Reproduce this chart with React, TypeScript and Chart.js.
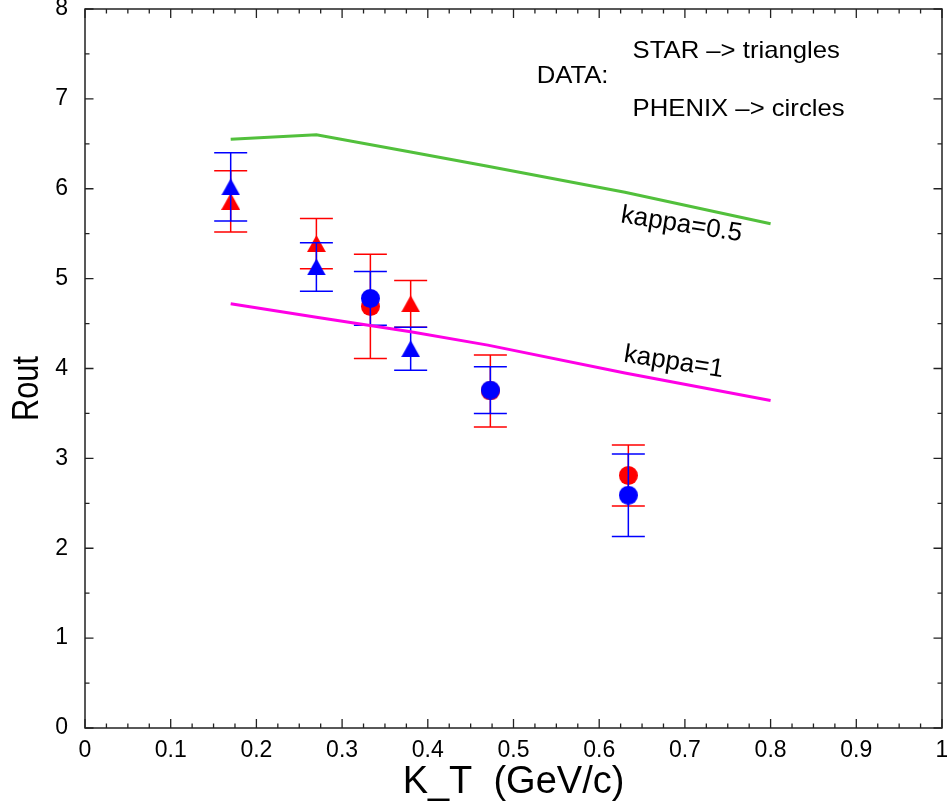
import React, { useEffect, useRef } from 'react';
import { Chart, registerables } from 'chart.js';

Chart.register(...registerables);

// ---- data ----
const modelKt = [0.17, 0.27, 0.38, 0.47, 0.63, 0.8];
const kappaHalfRout = [6.55, 6.6, 6.41, 6.25, 5.96, 5.61];
const kappaOneRout = [4.72, 4.57, 4.41, 4.26, 3.95, 3.645];

const starKt = [0.17, 0.27, 0.38];
const starRedRout = [5.86, 5.39, 4.72];
const starRedErr = [0.34, 0.28, 0.26];
const starBlueRout = [6.02, 5.13, 4.22];
const starBlueErr = [0.38, 0.27, 0.24];

const phenixKt = [0.333, 0.473, 0.634];
const phenixRedRout = [4.69, 3.75, 2.81];
const phenixRedErr = [0.58, 0.4, 0.34];
const phenixBlueRout = [4.78, 3.76, 2.59];
const phenixBlueErr = [0.3, 0.26, 0.46];

const xTickValues = [0, 0.1, 0.2, 0.3, 0.4, 0.5, 0.6, 0.7, 0.8, 0.9, 1];
const xTickLabels = ['0', '0.1', '0.2', '0.3', '0.4', '0.5', '0.6', '0.7', '0.8', '0.9', '1'];
const yTickValues = [0, 1, 2, 3, 4, 5, 6, 7, 8];
const yTickLabels = ['0', '1', '2', '3', '4', '5', '6', '7', '8'];

const xTitle = 'K_T  (GeV/c)';
const yTitle = 'Rout';

const FONT = "'Liberation Sans', Arial, Helvetica, sans-serif";

const annotations = [
  { text: 'STAR \u2013> triangles', x: 0.639, y: 7.534, size: 24, sx: 1.07, align: 'left', rot: 0 },
  { text: 'DATA:', x: 0.527, y: 7.245, size: 24, sx: 1.07, align: 'left', rot: 0 },
  { text: 'PHENIX \u2013> circles', x: 0.639, y: 6.88, size: 24, sx: 1.07, align: 'left', rot: 0 },
  { text: 'kappa=0.5', x: 0.696, y: 5.6, size: 26, sx: 1, align: 'center', rot: 9 },
  { text: 'kappa=1', x: 0.687, y: 4.07, size: 26, sx: 1, align: 'center', rot: 9 },
];

function makeTriangle(color: string) {
  const c = document.createElement('canvas');
  c.width = 19;
  c.height = 17;
  const g = c.getContext('2d')!;
  g.fillStyle = color;
  g.beginPath();
  g.moveTo(9.5, 0);
  g.lineTo(19, 17);
  g.lineTo(0, 17);
  g.closePath();
  g.fill();
  return c;
}

function makeCircle(color: string) {
  const c = document.createElement('canvas');
  c.width = 19;
  c.height = 19;
  const g = c.getContext('2d')!;
  g.fillStyle = color;
  g.beginPath();
  g.arc(9.5, 9.5, 9.5, 0, Math.PI * 2);
  g.fill();
  return c;
}

const errorBarPlugin = {
  id: 'errorBars',
  beforeDatasetDraw(chart: any, args: any) {
    const ds = chart.data.datasets[args.index];
    if (!ds.errors) return;
    const { ctx, scales } = chart;
    ctx.save();
    ctx.strokeStyle = ds.errColor;
    ctx.lineWidth = 1.5;
    ds.data.forEach((p: any, i: number) => {
      const x = scales.x.getPixelForValue(p.x);
      const yt = scales.y.getPixelForValue(p.y + ds.errors[i]);
      const yb = scales.y.getPixelForValue(p.y - ds.errors[i]);
      const hw = 16.5;
      ctx.beginPath();
      ctx.moveTo(x, yt);
      ctx.lineTo(x, yb);
      ctx.moveTo(x - hw, yt);
      ctx.lineTo(x + hw, yt);
      ctx.moveTo(x - hw, yb);
      ctx.lineTo(x + hw, yb);
      ctx.stroke();
    });
    ctx.restore();
  },
};

const frameTicksPlugin = {
  id: 'frameTicks',
  afterDraw(chart: any) {
    const { ctx, chartArea: a, scales } = chart;
    ctx.save();
    ctx.strokeStyle = '#222';
    ctx.lineWidth = 1.5;
    ctx.strokeRect(a.left, a.top, a.right - a.left, a.bottom - a.top);
    ctx.lineWidth = 1.3;
    ctx.beginPath();
    for (let i = 0; i <= 40; i++) {
      const v = i * 0.025;
      const x = scales.x.getPixelForValue(v);
      const len = i % 4 === 0 ? 9 : 4.5;
      ctx.moveTo(x, a.bottom);
      ctx.lineTo(x, a.bottom - len);
      ctx.moveTo(x, a.top);
      ctx.lineTo(x, a.top + len);
    }
    for (let i = 0; i <= 16; i++) {
      const v = i * 0.5;
      const y = scales.y.getPixelForValue(v);
      const len = i % 2 === 0 ? 8.5 : 4.5;
      ctx.moveTo(a.left, y);
      ctx.lineTo(a.left + len, y);
      ctx.moveTo(a.right, y);
      ctx.lineTo(a.right - len, y);
    }
    ctx.stroke();

    // y axis title, rotated
    const ys = scales.y;
    ctx.save();
    ctx.translate(ys.left + 28, (a.top + a.bottom) / 2 + 20);
    ctx.rotate(-Math.PI / 2);
    ctx.scale(0.83, 1);
    ctx.font = `37px ${FONT}`;
    ctx.fillStyle = '#000';
    ctx.textAlign = 'center';
    ctx.textBaseline = 'middle';
    ctx.fillText(yTitle, 0, 0);
    ctx.restore();

    ctx.restore();
  },
};

const annotationPlugin = {
  id: 'annots',
  afterDatasetsDraw(chart: any) {
    const { ctx, scales } = chart;
    ctx.save();
    ctx.fillStyle = '#000';
    ctx.textBaseline = 'middle';
    annotations.forEach((an) => {
      const x = scales.x.getPixelForValue(an.x);
      const y = scales.y.getPixelForValue(an.y);
      ctx.save();
      ctx.translate(x, y);
      ctx.rotate((an.rot * Math.PI) / 180);
      ctx.scale(an.sx, 1);
      ctx.font = `${an.size}px ${FONT}`;
      ctx.textAlign = an.align as CanvasTextAlign;
      ctx.fillText(an.text, 0, 0);
      ctx.restore();
    });
    ctx.restore();
  },
};

export default function App() {
  const ref = useRef<HTMLCanvasElement>(null);

  useEffect(() => {
    const canvas = ref.current!;
    const triRed = makeTriangle('#ff0000');
    const triBlue = makeTriangle('#0000ff');
    const dotRed = makeCircle('#ff0000');
    const dotBlue = makeCircle('#0000ff');

    const pts = (xs: number[], ys: number[]) => xs.map((x, i) => ({ x, y: ys[i] }));

    const marker = { pointRadius: 1, pointHoverRadius: 1, pointBorderWidth: 0, showLine: false };

    const chart = new Chart(canvas, {
      type: 'scatter',
      data: {
        datasets: [
          {
            label: 'kappa=0.5',
            data: pts(modelKt, kappaHalfRout),
            showLine: true,
            borderColor: '#52c03c',
            borderWidth: 3,
            pointRadius: 0,
            order: 0,
          },
          {
            label: 'kappa=1',
            data: pts(modelKt, kappaOneRout),
            showLine: true,
            borderColor: '#ff00e6',
            borderWidth: 3,
            pointRadius: 0,
            order: 0,
          },
          {
            label: 'STAR (red)',
            data: pts(starKt, starRedRout),
            pointStyle: triRed,
            ...marker,
            errors: starRedErr,
            errColor: '#ff0000',
            order: 2,
          } as any,
          {
            label: 'PHENIX (red)',
            data: pts(phenixKt, phenixRedRout),
            pointStyle: dotRed,
            ...marker,
            errors: phenixRedErr,
            errColor: '#ff0000',
            order: 2,
          } as any,
          {
            label: 'STAR (blue)',
            data: pts(starKt, starBlueRout),
            pointStyle: triBlue,
            ...marker,
            errors: starBlueErr,
            errColor: '#0000ff',
            order: 1,
          } as any,
          {
            label: 'PHENIX (blue)',
            data: pts(phenixKt, phenixBlueRout),
            pointStyle: dotBlue,
            ...marker,
            errors: phenixBlueErr,
            errColor: '#0000ff',
            order: 1,
          } as any,
        ],
      },
      options: {
        animation: false,
        responsive: false,
        devicePixelRatio: 1,
        layout: { padding: { left: 0, top: 9, right: 5, bottom: 0 } },
        plugins: { legend: { display: false }, tooltip: { enabled: false } },
        scales: {
          x: {
            type: 'linear',
            min: 0,
            max: 1,
            afterBuildTicks: (s: any) => {
              s.ticks = xTickValues.map((v) => ({ value: v }));
            },
            afterFit: (s: any) => {
              s.height = 79;
              s.paddingLeft = 0;
              s.paddingRight = 0;
            },
            ticks: {
              callback: (_v: any, i: number) => xTickLabels[i],
              font: { family: FONT, size: 23 },
              color: '#000',
              padding: 9,
              maxRotation: 0,
              autoSkip: false,
            },
            grid: { display: false, drawTicks: false },
            border: { display: false },
            title: {
              display: true,
              text: xTitle,
              font: { family: FONT, size: 38 },
              color: '#000',
              padding: { top: 0, bottom: 2 },
            },
          },
          y: {
            type: 'linear',
            min: 0,
            max: 8,
            afterBuildTicks: (s: any) => {
              s.ticks = yTickValues.map((v) => ({ value: v }));
            },
            afterFit: (s: any) => {
              s.width = 85;
              s.paddingTop = 0;
              s.paddingBottom = 0;
            },
            ticks: {
              callback: (_v: any, i: number) => yTickLabels[i],
              font: { family: FONT, size: 23 },
              color: '#000',
              padding: 17,
              autoSkip: false,
            },
            grid: { display: false, drawTicks: false },
            border: { display: false },
            title: { display: false },
          },
        },
      },
      plugins: [errorBarPlugin, frameTicksPlugin, annotationPlugin],
    } as any);

    return () => chart.destroy();
  }, []);

  return (
    <div style={{ position: 'fixed', left: 0, top: 0, width: 947, height: 807, background: '#fff' }}>
      <canvas ref={ref} width={947} height={807} style={{ display: 'block', width: 947, height: 807 }} />
    </div>
  );
}
